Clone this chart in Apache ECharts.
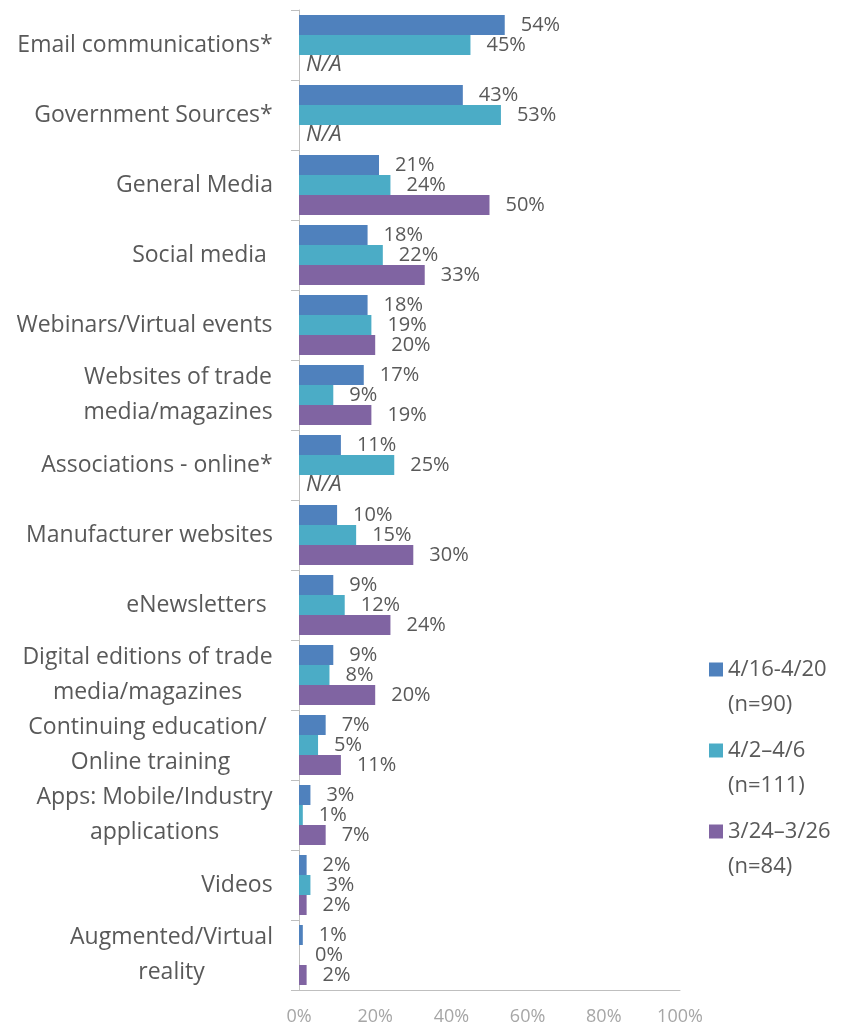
<!DOCTYPE html>
<html>
<head>
<meta charset="utf-8">
<script src="https://cdn.jsdelivr.net/npm/echarts@6/dist/echarts.min.js"></script>
<style>
  html, body { margin: 0; padding: 0; background: #ffffff; }
  #chart { width: 846px; height: 1028px; }
</style>
</head>
<body>
<div id="chart"></div>
<script>
// Information sources, three survey waves (percent of respondents)
const categories = [
  'Email communications*',
  'Government Sources*',
  'General Media',
  'Social media ',
  'Webinars/Virtual events',
  'Websites of trade\nmedia/magazines',
  'Associations - online*',
  'Manufacturer websites',
  'eNewsletters ',
  'Digital editions of trade\nmedia/magazines',
  'Continuing education/ \nOnline training',
  'Apps: Mobile/Industry\napplications',
  'Videos',
  'Augmented/Virtual\nreality'
];
const seriesNames = ['4/16-4/20\n(n=90)', '4/2\u20134/6\n(n=111)', '3/24\u20133/26\n(n=84)'];
const wave1 = [54, 43, 21, 18, 18, 17, 11, 10, 9, 9, 7, 3, 2, 1];
const wave2 = [45, 53, 24, 22, 19, 9, 25, 15, 12, 8, 5, 1, 3, 0];
const wave3 = [null, null, 50, 33, 20, 19, null, 30, 24, 20, 11, 7, 2, 2]; // null = not asked (N/A)
const xTicks = [0, 20, 40, 60, 80, 100];
const colors = ['#4F81BD', '#4BACC6', '#8064A2'];

const FONT_FAMILY = '"Open Sans", sans-serif';
const TEXT_COLOR = '#595959';
const CAT_SIZE = 23;

// Width of each category's widest line, so wrapped lines can be centred in a shared box
const ctx = document.createElement('canvas').getContext('2d');
ctx.font = CAT_SIZE + 'px ' + FONT_FAMILY;
const rich = {};
categories.forEach((c, i) => {
  const w = Math.max(...c.split('\n').map(l => ctx.measureText(l).width));
  rich['c' + i] = {
    width: Math.ceil(w), align: 'center', fontSize: CAT_SIZE,
    fontFamily: FONT_FAMILY, color: TEXT_COLOR, lineHeight: 35
  };
});

function toData(arr) {
  return arr.map(v => v == null
    ? { value: 0, label: { formatter: 'N/A', fontStyle: 'italic', fontSize: 22, distance: 7 } }
    : v);
}

const chart = echarts.init(document.getElementById('chart'), null, { renderer: 'canvas' });
chart.setOption({
  animation: false,
  backgroundColor: '#ffffff',
  color: colors,
  grid: { left: 299, right: 166, top: 10, bottom: 38, containLabel: false },
  legend: {
    orient: 'vertical',
    left: 704,
    top: 612,
    icon: 'rect',
    itemWidth: 14,
    itemHeight: 14,
    itemGap: -24,
    data: seriesNames,
    // leading blank line keeps the swatch level with the first line of each name
    formatter: name => '\n' + name,
    textStyle: {
      fontFamily: FONT_FAMILY, fontSize: 22, color: TEXT_COLOR, lineHeight: 35
    }
  },
  xAxis: {
    type: 'value',
    min: 0,
    max: 100,
    interval: 20,
    splitLine: { show: false },
    axisTick: { show: false },
    axisLine: { show: true, lineStyle: { color: '#bfbfbf', width: 1 } },
    axisLabel: {
      formatter: '{value}%', color: '#a6a6a6', fontFamily: FONT_FAMILY,
      fontSize: 18, margin: 18,
      customValues: xTicks
    }
  },
  yAxis: {
    type: 'category',
    inverse: true,
    data: categories,
    boundaryGap: true,
    axisLine: { show: true, lineStyle: { color: '#bfbfbf', width: 1 } },
    axisTick: { show: true, length: 8, lineStyle: { color: '#bfbfbf' } },
    axisLabel: {
      margin: 26,
      interval: 0,
      formatter: (value, index) => value.split('\n').map(l => '{c' + index + '|' + l + '}').join('\n'),
      rich: rich
    }
  },
  series: [wave1, wave2, wave3].map((arr, i) => ({
    type: 'bar',
    name: seriesNames[i],
    data: toData(arr),
    barWidth: 20,
    barGap: '0%',
    itemStyle: { color: colors[i] },
    label: {
      show: true,
      position: 'right',
      distance: 16,
      formatter: '{c}%',
      color: TEXT_COLOR,
      fontFamily: FONT_FAMILY,
      fontSize: 20
    }
  }))
});
</script>
</body>
</html>
